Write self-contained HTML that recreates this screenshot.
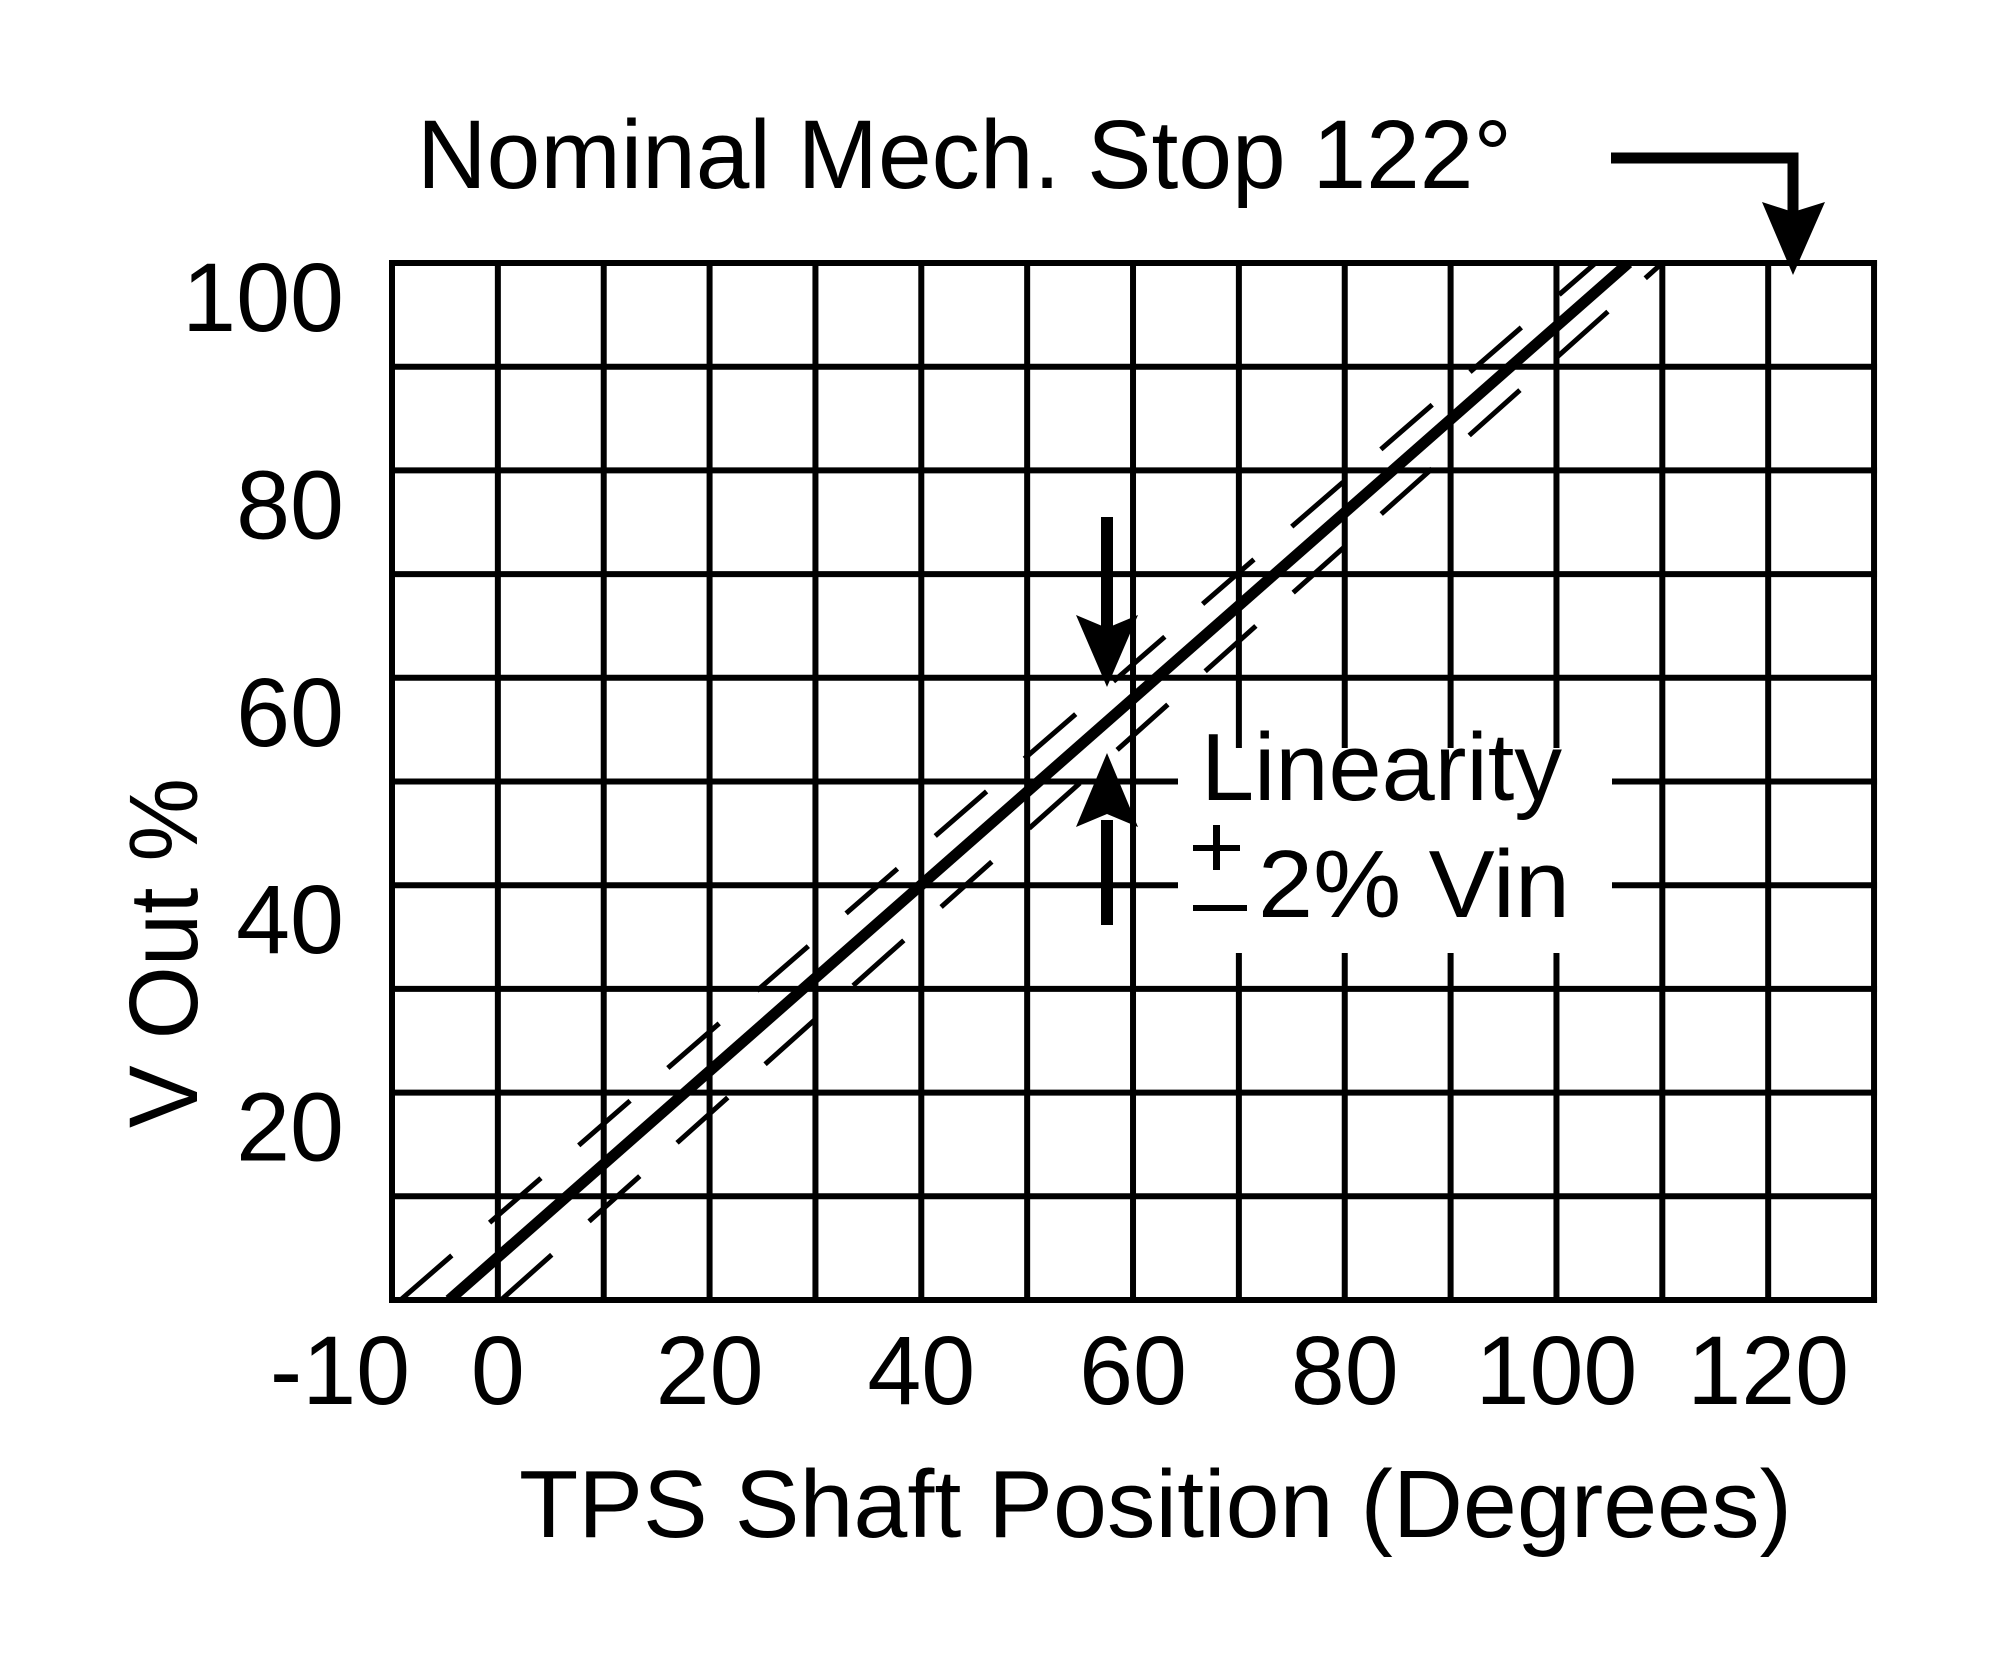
<!DOCTYPE html>
<html><head><meta charset="utf-8"><style>
html,body{margin:0;padding:0;background:#fff;}
svg{display:block;font-family:"Liberation Sans",Arial,sans-serif;}
</style></head><body>
<svg id="chart" width="2000" height="1676" viewBox="0 0 2000 1676" xmlns="http://www.w3.org/2000/svg">
<defs><clipPath id="plotclip"><rect x="392" y="263" width="1482" height="1037"/></clipPath></defs>
<g id="grid"></g>
<rect x="1178" y="748" width="434" height="205" fill="#fff"/>
<g id="series" clip-path="url(#plotclip)"></g>
<g id="ticks" font-size="97" fill="#000"></g>
<text x="417" y="188" font-size="97" textLength="1095" lengthAdjust="spacingAndGlyphs">Nominal Mech. Stop 122°</text>
<text x="519" y="1537" font-size="96" textLength="1273" lengthAdjust="spacingAndGlyphs">TPS Shaft Position (Degrees)</text>
<text transform="translate(197,1128) rotate(-90)" x="0" y="0" font-size="97" textLength="350" lengthAdjust="spacingAndGlyphs">V Out %</text>
<g>
<polyline points="1611,158 1793,158 1793,215" fill="none" stroke="#000" stroke-width="11"/>
<polygon points="1762,202 1793,212 1825,202 1793,275" fill="#000"/>
</g>
<g>
<line x1="1107" y1="517" x2="1107" y2="640" stroke="#000" stroke-width="12"/>
<polygon points="1076,615 1107,628 1138,615 1107,687" fill="#000"/>
<line x1="1107" y1="820" x2="1107" y2="925" stroke="#000" stroke-width="12"/>
<polygon points="1076,827 1107,814 1138,827 1107,753" fill="#000"/>
</g>
<g font-size="96">
<text x="1201" y="800" textLength="361" lengthAdjust="spacingAndGlyphs">Linearity</text>
<text x="1258" y="917" textLength="312" lengthAdjust="spacingAndGlyphs">2% Vin</text>
<rect x="1193" y="845" width="47" height="6" fill="#000"/>
<rect x="1213" y="825" width="7" height="45" fill="#000"/>
<rect x="1193" y="905" width="54" height="6" fill="#000"/>
</g>
</svg>
<script>
const xTicks = [-10, 0, 20, 40, 60, 80, 100, 120];
const yTicks = [20, 40, 60, 80, 100];
const nominalX = [-4.6, 106.8];
const nominalY = [0, 100];
const upperX = [-9.2, 103.7];
const upperY = [0, 100];
const lowerX = [0.3, 110.0];
const lowerY = [0, 100];

const NS = "http://www.w3.org/2000/svg";
const X = d => 392 + (d + 10) * 10.586;
const Y = v => 1300 - v * 10.37;
function mk(tag, attrs, parent){
  const e = document.createElementNS(NS, tag);
  for (const k in attrs) e.setAttribute(k, attrs[k]);
  parent.appendChild(e);
  return e;
}
const grid = document.getElementById('grid');
for (let d = -10; d <= 130; d += 10) {
  const l = mk('line', {x1: X(d), y1: Y(0)+3, x2: X(d), y2: Y(100)-3, stroke: '#000', 'stroke-width': 6}, grid);
  
  
}
for (let v = 0; v <= 100; v += 10) {
  const l = mk('line', {x1: X(-10)-3, y1: Y(v), x2: X(130)+3, y2: Y(v), stroke: '#000', 'stroke-width': 6}, grid);
  
  
}
const series = document.getElementById('series');
function lineFrom(xs, ys, w, dash, name){
  const l = mk('line', {x1: X(xs[0]), y1: Y(ys[0]), x2: X(xs[1]), y2: Y(ys[1]), stroke: '#000', 'stroke-width': w}, series);
  if (dash) l.setAttribute('stroke-dasharray', dash);
  
  
}
lineFrom(upperX, upperY, 5, '68 50', 'upper-limit-line');
lineFrom(lowerX, lowerY, 5, '68 50', 'lower-limit-line');
lineFrom(nominalX, nominalY, 11, null, 'nominal-output-line');
const ticks = document.getElementById('ticks');
xTicks.forEach(t => {
  const cx = t === -10 ? 340 : X(t);
  const e = mk('text', {x: cx, y: 1404, 'text-anchor': 'middle'}, ticks);
  e.textContent = String(t);
  
  
});
yTicks.forEach(t => {
  const e = mk('text', {x: 344, y: Y(t) + 68, 'text-anchor': 'end'}, ticks);
  e.textContent = String(t);
  
  
});
</script>
</body></html>
